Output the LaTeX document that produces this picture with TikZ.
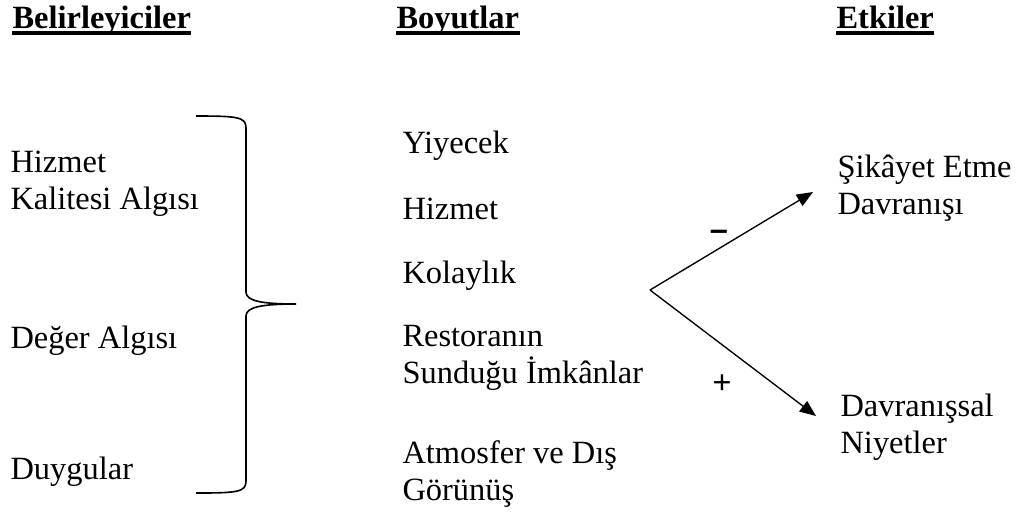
\documentclass[tikz,border=0pt]{standalone}
\usepackage{fontspec}
\setmainfont{Liberation Serif}
\newfontfamily\signfont{Liberation Sans}
\usetikzlibrary{arrows.meta}
\tikzset{item/.style={anchor=west,align=left,inner sep=0pt,font=\fontsize{12}{13.7}\selectfont},
 head/.style={anchor=base west,inner sep=0pt,font=\fontsize{12}{13.7}\selectfont\bfseries},
 sign/.style={inner sep=0pt,font=\fontsize{12}{13.7}\selectfont\signfont},
 headline/.style={line width=1.3pt},
 pointer/.style={-{Triangle[length=6pt,width=4.8pt]},line width=0.5pt}}

\begin{document}
\begin{tikzpicture}[x=0.013cm,y=-0.013cm]
\useasboundingbox (0,0) rectangle (1016,518);
% column heads
\node[head] (bel) at (12,28) {Belirleyiciler};
\node[head] (boy) at (396,28) {Boyutlar};
\node[head] (etk) at (836,28) {Etkiler};
\foreach \n in {bel,boy,etk}\draw[headline] ([yshift=-1.9pt]\n.base west)--([yshift=-1.9pt]\n.base east);
% determinants
\node[item] (kal) at (10,184) {Hizmet\\Kalitesi Algısı};
\node[item] (deg) at (10,341) {Değer Algısı};
\node[item] (duy) at (10,472) {Duygular};
\draw[line width=0.6pt] (196,116) .. controls (238,116) and (246,117) .. (246,128) -- (246,292)
 .. controls (246,301) and (262,304) .. (296,304) .. controls (262,304) and (246,307) .. (246,316)
 -- (246,481) .. controls (246,492) and (238,493) .. (196,493);
% dimensions
\node[item] (yiy) at (402,146) {Yiyecek};
\node[item] (hiz) at (402,209) {Hizmet};
\node[item] (kol) at (402,276) {Kolaylık};
\node[item] (res) at (402,358) {Restoranın\\Sunduğu İmkânlar};
\node[item] (atm) at (402,474) {Atmosfer ve Dış\\Görünüş};
% effects
\coordinate (fork) at (650,290);
\node[item] (sik) at (837,188) {Şikâyet Etme\\Davranışı};
\node[item] (niy) at (840,427) {Davranışsal\\Niyetler};
\draw[pointer] (fork) -- ([shift={(-24,4)}]sik.west);
\draw[pointer] (fork) -- ([shift={(-24,-11)}]niy.west);
\node[sign] (neg) at (719,235) {\textbf{–}};
\node[sign] (pos) at (722,384) {+};
\end{tikzpicture}
\end{document}
